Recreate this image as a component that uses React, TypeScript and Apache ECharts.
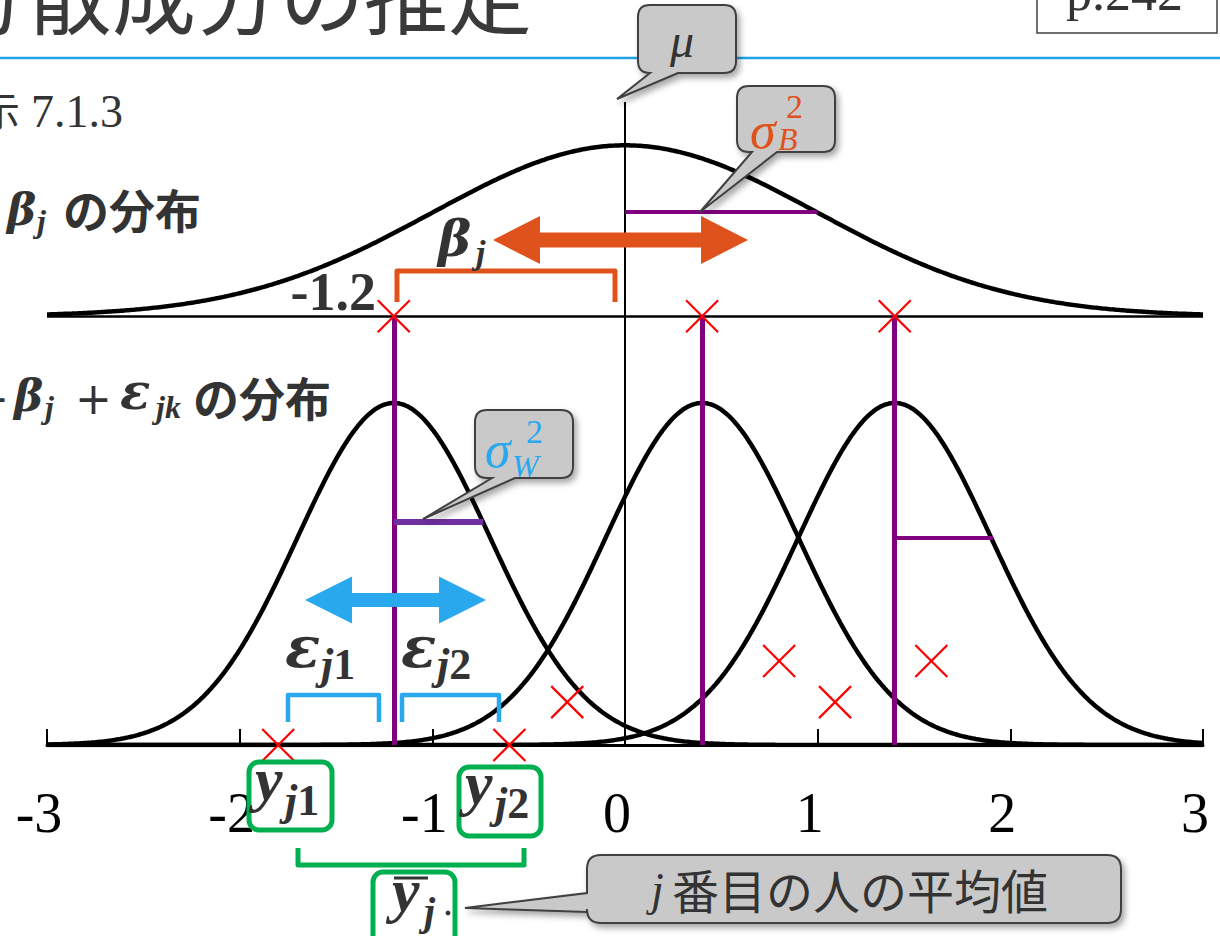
import React, { useEffect, useRef } from 'react';
import * as echarts from 'echarts';

// ---- model parameters and observations ----
const xRange = [-3, 3];
const grandMean = 0;
const sigmaB = 1;
const sigmaW = 0.5;
const upperBase = 1; // level of the between-group axis
const zeroLineTop = 1.5;
const groupMeans = [-1.2, 0.4, 1.4];
const obsX = [-1.8, -0.6, -0.3, 0.8, 1.09, 1.59];
const obsY = [0, 0, 0.1, 0.196, 0.1, 0.196];
const sigmaBarFrom = [0, -1.2, 1.4];
const sigmaBarTo = [1.0, -0.735, 1.91];
const sigmaBarLevel = [1.243, 0.52, 0.483];

// ---- styling ----
const DARK = '#333333';
const SERIF = "'Liberation Serif', 'DejaVu Serif', serif";
const DVS = "'DejaVu Serif', 'Liberation Serif', serif";
const SANS = "'DejaVu Sans', 'Noto Sans', sans-serif";
const JP = "'Noto Sans CJK JP', 'Noto Sans', sans-serif";
const ORANGE = '#E0521B';
const BLUE = '#29A8EE';
const GREEN = '#00B050';
const PURPLE = '#800080';

const pdf = (x: number, m: number, s: number) =>
  Math.exp(-0.5 * ((x - m) / s) ** 2) / (s * Math.sqrt(2 * Math.PI));

const curve = (m: number, s: number, base: number) => {
  const pts: number[][] = [];
  const n = 600;
  for (let i = 0; i <= n; i++) {
    const x = xRange[0] + ((xRange[1] - xRange[0]) * i) / n;
    pts.push([x, base + pdf(x, m, s)]);
  }
  return pts;
};

// speech-bubble outline: rounded box with a pointer on the bottom or left side
function calloutD(
  x0: number, y0: number, x1: number, y1: number, r: number,
  side: 'bottom' | 'left', a: number, b: number, tx: number, ty: number
) {
  let d = `M${x0 + r} ${y0} L${x1 - r} ${y0} Q${x1} ${y0} ${x1} ${y0 + r} L${x1} ${y1 - r} Q${x1} ${y1} ${x1 - r} ${y1} `;
  if (side === 'bottom') d += `L${b} ${y1} L${tx} ${ty} L${a} ${y1} `;
  d += `L${x0 + r} ${y1} Q${x0} ${y1} ${x0} ${y1 - r} `;
  if (side === 'left') d += `L${x0} ${b} L${tx} ${ty} L${x0} ${a} `;
  d += `L${x0} ${y0 + r} Q${x0} ${y0} ${x0 + r} ${y0} Z`;
  return d;
}

echarts.graphic.registerShape('calloutMu', echarts.graphic.extendPath(calloutD(638, 5, 736, 73, 12, 'bottom', 650, 678, 617, 99), {}));
echarts.graphic.registerShape('calloutSB', echarts.graphic.extendPath(calloutD(737, 86, 835, 152, 12, 'bottom', 752, 777, 700, 212), {}));
echarts.graphic.registerShape('calloutSW', echarts.graphic.extendPath(calloutD(475, 410, 573, 478, 12, 'bottom', 492, 515, 423, 519), {}));
echarts.graphic.registerShape('calloutMean', echarts.graphic.extendPath(calloutD(587, 855, 1121, 923, 14, 'left', 893, 912, 465, 908), {}));

type TOpt = { bold?: boolean; italic?: boolean; cjk?: boolean; dv?: boolean; sans?: boolean; fill?: string; align?: string };

const T = (x: number, base: number, text: string, size: number, o: TOpt = {}) => ({
  type: 'text',
  z: 60,
  x,
  y: base - size * (o.cjk ? 0.38 : 0.34),
  style: {
    text,
    fontSize: size,
    fontFamily: o.cjk ? JP : o.sans ? SANS : o.dv ? DVS : SERIF,
    fontWeight: o.bold ? 'bold' : 'normal',
    fontStyle: o.italic ? 'italic' : 'normal',
    fill: o.fill ?? DARK,
    align: o.align ?? 'left',
    verticalAlign: 'middle',
  },
});

// subscript with an italic letter followed by an upright digit
const Sub = (x: number, base: number, letters: string, digit: string, size: number, bold = true, fill = DARK) => ({
  type: 'text',
  z: 60,
  x,
  y: base - size * 0.34,
  style: {
    text: `{i|${letters}}{n|${digit}}`,
    verticalAlign: 'middle',
    align: 'left',
    rich: {
      i: { fontSize: size, fontFamily: SERIF, fontStyle: 'italic', fontWeight: bold ? 'bold' : 'normal', fill },
      n: { fontSize: size, fontFamily: SERIF, fontStyle: 'normal', fontWeight: bold ? 'bold' : 'normal', fill },
    },
  },
});

const dblArrow = (xl: number, xr: number, yc: number, shaft: number, head: number, headL: number) => {
  const s = shaft / 2;
  const h = head / 2;
  return [
    [xl, yc], [xl + headL, yc - h], [xl + headL, yc - s], [xr - headL, yc - s], [xr - headL, yc - h],
    [xr, yc], [xr - headL, yc + h], [xr - headL, yc + s], [xl + headL, yc + s], [xl + headL, yc + h],
  ];
};

const bubbleStyle = {
  fill: '#C9C9C9',
  stroke: '#3F3F3F',
  lineWidth: 2,
  shadowBlur: 6,
  shadowOffsetX: 3,
  shadowOffsetY: 4,
  shadowColor: 'rgba(0,0,0,0.35)',
};

const bracket = (pts: number[][], color: string, w: number) => ({
  type: 'polyline',
  z: 40,
  shape: { points: pts },
  style: { stroke: color, lineWidth: w, fill: 'none', lineJoin: 'round' },
});

const greenBox = (x: number, y: number, w: number, h: number) => ({
  type: 'rect',
  z: 45,
  shape: { x, y, width: w, height: h, r: 10 },
  style: { fill: '#ffffff', stroke: GREEN, lineWidth: 5 },
});

function buildOption() {
  const segStyle = (color: string, width: number) => ({ color, width, opacity: 1 });

  const series: any[] = [
    // vertical reference line through the grand mean
    {
      type: 'lines', coordinateSystem: 'cartesian2d', z: 1, silent: true,
      lineStyle: segStyle('#000', 2),
      data: [{ coords: [[grandMean, 0], [grandMean, zeroLineTop]] }],
    },
    // axis of the between-group distribution
    {
      type: 'lines', coordinateSystem: 'cartesian2d', z: 1, silent: true,
      lineStyle: segStyle('#000', 2.5),
      data: [{ coords: [[xRange[0], upperBase], [xRange[1], upperBase]] }],
    },
    // distribution of beta_j
    {
      type: 'line', z: 3, showSymbol: false, silent: true,
      lineStyle: { color: '#000', width: 4.5 },
      data: curve(grandMean, sigmaB, upperBase),
    },
    // distributions of mu + beta_j + eps_jk
    ...groupMeans.map((m) => ({
      type: 'line', z: 3, showSymbol: false, silent: true,
      lineStyle: { color: '#000', width: 4.5 },
      data: curve(m, sigmaW, 0),
    })),
    // group means dropped to the lower axis
    {
      type: 'lines', coordinateSystem: 'cartesian2d', z: 4, silent: true,
      lineStyle: segStyle(PURPLE, 5),
      data: groupMeans.map((m) => ({ coords: [[m, 0], [m, upperBase]] })),
    },
    // standard-deviation bars
    {
      type: 'lines', coordinateSystem: 'cartesian2d', z: 4, silent: true,
      lineStyle: segStyle(PURPLE, 4),
      data: sigmaBarFrom.map((x0, i) => ({
        coords: [[x0, sigmaBarLevel[i]], [sigmaBarTo[i], sigmaBarLevel[i]]],
        lineStyle: i === 1 ? { color: '#7030A0', width: 6, opacity: 1 } : undefined,
      })),
    },
    // sampled group effects and observations
    {
      type: 'custom', coordinateSystem: 'cartesian2d', z: 6, silent: true,
      data: [
        ...groupMeans.map((m) => [m, upperBase]),
        ...obsX.map((x, i) => [x, obsY[i]]),
      ],
      renderItem: (_p: any, api: any) => {
        const p = api.coord([api.value(0), api.value(1)]);
        const h = 16;
        const st = { stroke: '#ff0000', lineWidth: 2.2 };
        return {
          type: 'group',
          children: [
            { type: 'line', shape: { x1: p[0] - h, y1: p[1] - h, x2: p[0] + h, y2: p[1] + h }, style: st },
            { type: 'line', shape: { x1: p[0] - h, y1: p[1] + h, x2: p[0] + h, y2: p[1] - h }, style: st },
          ],
        };
      },
    },
  ];

  const graphic: any[] = [
    // heading
    T(-56, 23, '分散成分の推定', 84, { cjk: true, fill: '#3A3A3A' }),
    { type: 'line', z: 20, shape: { x1: 0, y1: 58, x2: 1220, y2: 58 }, style: { stroke: '#1FA3E8', lineWidth: 2.5 } },
    { type: 'rect', z: 20, shape: { x: 1037, y: -10, width: 180, height: 43 }, style: { fill: '#fff', stroke: '#404040', lineWidth: 1.5 } },
    T(1066, 10, 'p.242', 52),
    T(20, 124, '示', 40, { cjk: true, align: 'right' }),
    T(31, 127, '7.1.3', 46),

    // row captions
    T(7, 224, 'β', 44, { bold: true, italic: true, dv: true }),
    T(37, 232, 'j', 32, { bold: true, italic: true }),
    T(63, 225, 'の分布', 46, { cjk: true, bold: true }),
    T(9, 413, '+', 44, { align: 'right', sans: true }),
    T(14, 410, 'β', 44, { bold: true, italic: true, dv: true }),
    T(45, 418, 'j', 32, { bold: true, italic: true }),
    T(75, 413, '+', 44, { sans: true }),
    T(120, 408, 'ε', 50, { bold: true, italic: true, dv: true }),
    T(156, 418, 'jk', 32, { bold: true, italic: true }),
    T(193, 413, 'の分布', 46, { cjk: true, bold: true }),
    T(376, 310, '-1.2', 54, { bold: true, align: 'right' }),

    // beta_j spread
    { type: 'polygon', z: 30, shape: { points: dblArrow(493, 748, 240, 15, 48, 47) }, style: { fill: ORANGE } },
    T(438, 255, 'β', 50, { bold: true, italic: true, dv: true }),
    T(476, 264, 'j', 34, { bold: true, italic: true }),
    bracket([[397, 302], [397, 271], [615, 271], [615, 302]], ORANGE, 5),

    // epsilon spread
    { type: 'polygon', z: 30, shape: { points: dblArrow(305, 486, 600, 14, 47, 47) }, style: { fill: BLUE } },
    T(285, 667, 'ε', 58, { bold: true, italic: true, dv: true }),
    Sub(321, 679, 'j', '1', 44),
    T(401, 667, 'ε', 58, { bold: true, italic: true, dv: true }),
    Sub(437, 679, 'j', '2', 44),
    bracket([[288, 722], [288, 695], [379, 695], [379, 722]], BLUE, 4.5),
    bracket([[402, 722], [402, 695], [499, 695], [499, 722]], BLUE, 4.5),

    // observations and their mean
    greenBox(249, 762, 83, 68),
    T(255, 800, 'y', 62, { bold: true, italic: true }),
    Sub(285, 815, 'j', '1', 44),
    greenBox(459, 767, 82, 69),
    T(465, 804, 'y', 62, { bold: true, italic: true }),
    Sub(495, 818, 'j', '2', 44),
    bracket([[298, 848], [298, 865], [524, 865], [524, 848]], GREEN, 5),
    greenBox(373, 872, 82, 80),
    T(392, 911, 'y', 62, { bold: true, italic: true }),
    { type: 'line', z: 60, shape: { x1: 394, y1: 878, x2: 428, y2: 878 }, style: { stroke: DARK, lineWidth: 3 } },
    T(424, 925, 'j', 40, { bold: true, italic: true }),
    { type: 'circle', z: 60, shape: { cx: 448, cy: 913, r: 2.4 }, style: { fill: DARK } },

    // speech bubbles
    { type: 'calloutMu', z: 50, x: 0, y: 0, style: bubbleStyle },
    T(682, 57, 'μ', 48, { italic: true, align: 'center' }),
    { type: 'calloutSB', z: 50, x: 0, y: 0, style: bubbleStyle },
    T(750, 148, 'σ', 52, { italic: true, fill: ORANGE }),
    T(786, 118, '2', 34, { fill: ORANGE }),
    T(778, 150, 'B', 32, { italic: true, fill: ORANGE }),
    { type: 'calloutSW', z: 50, x: 0, y: 0, style: bubbleStyle },
    T(485, 467, 'σ', 52, { italic: true, fill: BLUE }),
    T(526, 443, '2', 34, { fill: BLUE }),
    T(512, 477, 'W', 32, { italic: true, fill: BLUE }),
    { type: 'calloutMean', z: 50, x: 0, y: 0, style: bubbleStyle },
    T(651, 905, 'j', 46, { italic: true }),
    T(672, 906, '番目の人の平均値', 47, { cjk: true }),
  ];

  return {
    animation: false,
    grid: { left: 47, right: 17, top: 102, height: 643 },
    xAxis: {
      type: 'value',
      min: xRange[0],
      max: xRange[1],
      interval: 1,
      splitLine: { show: false },
      axisLine: { lineStyle: { color: '#000', width: 3 } },
      axisTick: { inside: true, length: 16, lineStyle: { color: '#000', width: 2 } },
      axisLabel: { color: '#000', fontFamily: SERIF, fontSize: 56, margin: 40, padding: [0, 16, 0, 0] },
    },
    yAxis: { type: 'value', min: 0, max: zeroLineTop, show: false },
    series,
    graphic,
  };
}

export default function App() {
  const ref = useRef<HTMLDivElement>(null);
  useEffect(() => {
    if (!ref.current) return;
    const chart = echarts.init(ref.current, null, { renderer: 'svg' });
    chart.setOption(buildOption() as any);
    return () => chart.dispose();
  }, []);
  return (
    <div
      ref={ref}
      style={{ position: 'absolute', left: 0, top: 0, width: 1220, height: 936, background: '#fff' }}
    />
  );
}
